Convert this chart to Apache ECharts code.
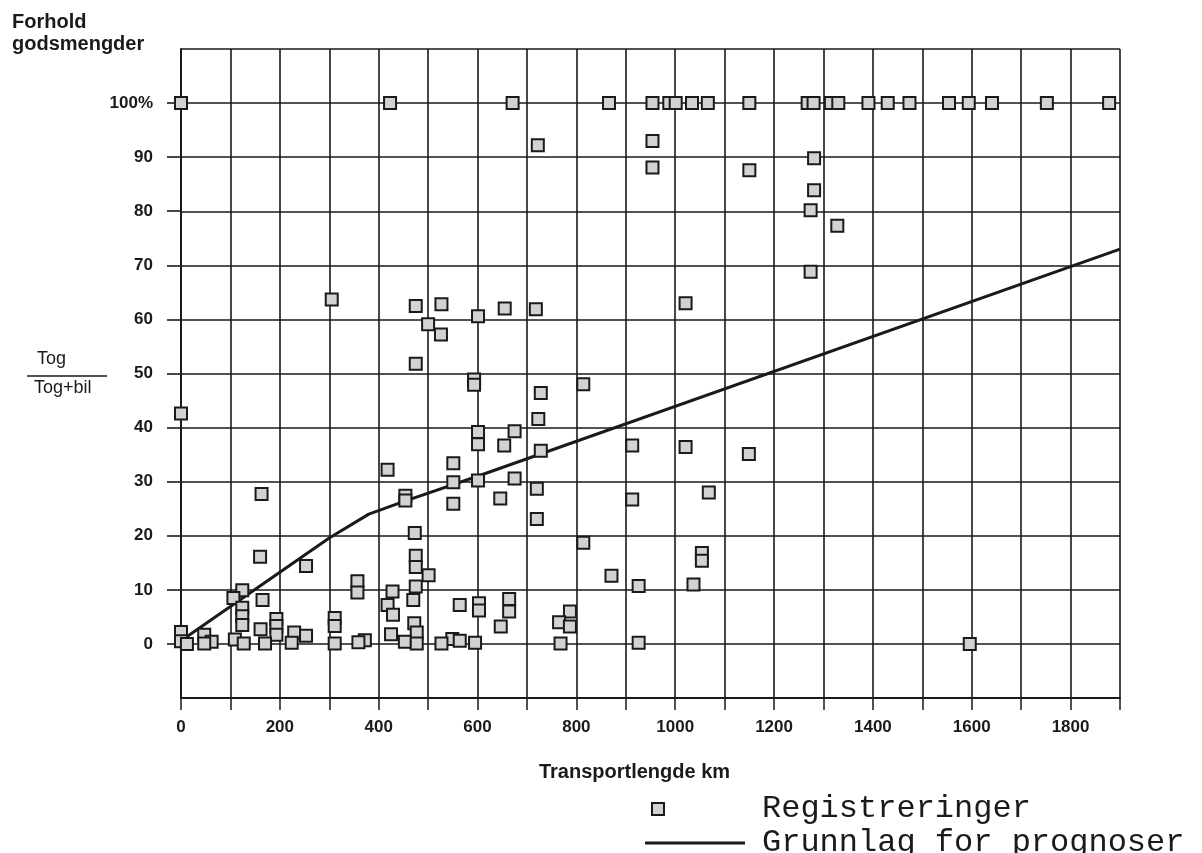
<!DOCTYPE html>
<html>
<head>
<meta charset="utf-8">
<script src="https://cdn.jsdelivr.net/npm/echarts@6/dist/echarts.min.js"></script>
<style>
html,body{margin:0;padding:0;background:#fff;}
#chart{width:1202px;height:853px;}
</style>
</head>
<body>
<div id="chart"></div>
<script>
// Registreringer: transport length (km) and share (%)
const regKm = [
  0,423,671,866,954,988,1001,1034,1066,1150,1268,1280,1315,1330,1391,1430,1474,1554,1594,1641,1752,1878,
  722,954,954,1150,1281,1281,1274,1328,1274,
  305,475,527,500,526,601,655,718,1021,
  475,593,593,814,728,0,723,601,675,601,654,728,913,1021,1149,
  551,418,551,601,675,720,1068,163,454,454,646,551,913,720,
  473,814,160,475,1054,1054,253,475,501,871,357,1037,926,475,
  124,357,428,106,165,470,664,418,564,603,124,603,664,787,429,124,311,193,765,472,124,311,193,647,787,161,0,229,477,425,47,193,253,109,549,0,372,564,62,453,359,595,926,12,47,127,170,224,311,477,527,768,1596
];
const regPct = [
  100,100,100,100,100,100,100,100,100,100,100,100,100,100,100,100,100,100,100,100,100,100,
  92.2,93.0,88.1,87.6,89.8,83.9,80.2,77.3,68.8,
  63.7,62.5,62.8,59.1,57.2,60.6,62.0,61.9,63.0,
  51.8,48.9,47.9,48.0,46.4,42.6,41.6,39.2,39.3,36.9,36.7,35.7,36.7,36.4,35.1,
  33.4,32.2,29.9,30.2,30.6,28.7,28.0,27.7,27.4,26.5,26.9,25.9,26.7,23.1,
  20.5,18.7,16.1,16.3,16.8,15.4,14.4,14.2,12.7,12.6,11.6,11.0,10.7,10.6,
  9.9,9.5,9.7,8.5,8.1,8.1,8.3,7.2,7.2,7.5,6.7,6.2,6.0,6.0,5.4,5.1,4.8,4.6,4.0,3.8,3.5,3.3,3.3,3.2,3.2,2.7,2.2,2.1,2.1,1.8,1.7,1.7,1.5,0.8,0.9,0.5,0.7,0.6,0.4,0.4,0.3,0.2,0.2,0,0.1,0.1,0.1,0.2,0.1,0.1,0.1,0.1,0
];
// Grunnlag for prognoser
const lineKm  = [0, 300, 380, 450, 600, 1900];
const linePct = [0.6, 19.6, 24.0, 26.3, 31.0, 73.0];

const xLabelStep = 200;
const yTopLabel = '100%';

const regData = regKm.map((x, i) => [x, regPct[i]]);
const lineData = lineKm.map((x, i) => [x, linePct[i]]);

const INK = '#1a1a1a';
const GRID_LINE = {color: INK, width: 1.6};
const LABEL_FONT = {fontFamily: '"Liberation Sans", Arial, sans-serif', fontWeight: 'bold', fontSize: 17, color: INK};

const chart = echarts.init(document.getElementById('chart'), null, {renderer: 'canvas'});
chart.setOption({
  backgroundColor: '#ffffff',
  animation: false,
  grid: [
    {left: 181, right: 82, top: 49, bottom: 155, containLabel: false},
    {left: 167, width: 14, top: 103, height: 541, containLabel: false}
  ],
  xAxis: [
    {
      type: 'value', gridIndex: 0, min: 0, max: 1900, interval: 100,
      name: 'Transportlengde km', nameLocation: 'middle', nameGap: 64,
      nameTextStyle: {fontFamily: '"Liberation Sans", Arial, sans-serif', fontWeight: 'bold', fontSize: 20, color: INK, padding: [0, 32, 0, 0]},
      axisLine: {show: true, onZero: false, lineStyle: {color: INK, width: 2}},
      axisTick: {show: true, length: 12, lineStyle: {color: INK, width: 1.5}},
      axisLabel: Object.assign({margin: 21, formatter: v => (v % xLabelStep === 0 ? String(v) : '')}, LABEL_FONT),
      splitLine: {show: true, lineStyle: GRID_LINE}
    },
    {type: 'value', gridIndex: 1, min: 0, max: 1, show: false}
  ],
  yAxis: [
    {
      type: 'value', gridIndex: 0, min: -10, max: 110, interval: 10,
      axisLine: {show: true, onZero: false, lineStyle: {color: INK, width: 2}},
      axisTick: {show: false},
      axisLabel: Object.assign({margin: 28, formatter: v => (v < 0 || v > 100 ? '' : (v === 100 ? yTopLabel : String(v)))}, LABEL_FONT),
      splitLine: {show: true, lineStyle: GRID_LINE}
    },
    {
      type: 'value', gridIndex: 1, min: 0, max: 100, interval: 10,
      axisLine: {show: false}, axisTick: {show: false}, axisLabel: {show: false},
      splitLine: {show: true, lineStyle: GRID_LINE}
    }
  ],
  legend: {
    orient: 'vertical', left: 639, top: 788, height: 80, itemGap: 2,
    itemWidth: 100, itemHeight: 12,
    selectedMode: false,
    formatter: name => '{a|' + name + '}',
    textStyle: {
      color: INK,
      rich: {a: {fontFamily: '"Liberation Mono", "Courier New", monospace', fontSize: 32, lineHeight: 30, color: INK, padding: [0, 0, 0, 12]}}
    },
    data: [
      {name: 'Registreringer', icon: 'path://M7,0H19V12H7Z M0,6L0,6 M100,6L100,6'},
      {name: 'Grunnlag for prognoser', icon: 'path://M0,0L0,0 M0,4.5H100V7.5H0Z M100,12L100,12', itemStyle: {color: INK, borderWidth: 0}}
    ]
  },
  graphic: [
    {type: 'text', left: 12, top: 11, style: {text: 'Forhold\ngodsmengder', font: 'bold 20px "Liberation Sans", Arial, sans-serif', lineHeight: 22, fill: INK}},
    {type: 'text', left: 37, top: 350, style: {text: 'Tog', font: '18px "Liberation Sans", Arial, sans-serif', fill: INK}},
    {type: 'line', shape: {x1: 27, y1: 376, x2: 107, y2: 376}, style: {stroke: INK, lineWidth: 1.5}},
    {type: 'text', left: 34, top: 379, style: {text: 'Tog+bil', font: '18px "Liberation Sans", Arial, sans-serif', fill: INK}}
  ],
  series: [
    {
      name: 'Grunnlag for prognoser', type: 'line', xAxisIndex: 0, yAxisIndex: 0,
      data: lineData, symbol: 'none', smooth: false,
      lineStyle: {color: INK, width: 3}, itemStyle: {color: INK}, z: 3
    },
    {
      name: 'Registreringer', type: 'scatter', xAxisIndex: 0, yAxisIndex: 0,
      data: regData, symbol: 'rect', symbolSize: 12,
      itemStyle: {color: '#d2d2d2', borderColor: INK, borderWidth: 2, opacity: 1},
      z: 4
    }
  ]
});
</script>
</body>
</html>
